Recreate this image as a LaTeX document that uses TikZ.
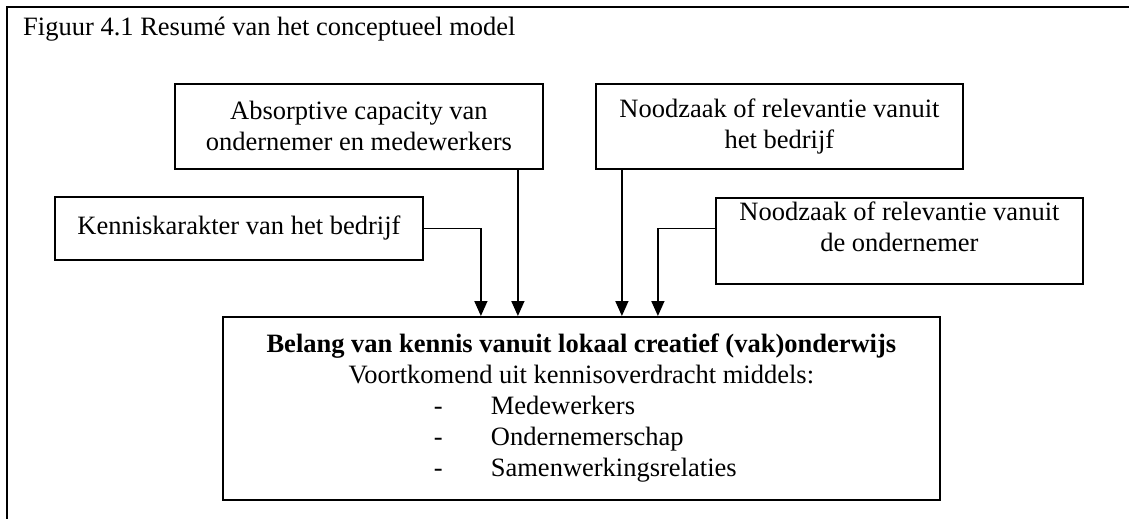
\documentclass[tikz,border=0pt]{standalone}
\usepackage{fontspec}
\setmainfont{Liberation Serif}
\usetikzlibrary{arrows.meta}
\begin{document}
\begin{tikzpicture}[x=1pt,y=-1pt,
  box/.style={draw=black,line width=1.8pt,rectangle,inner sep=0pt,align=center,
    font=\fontsize{26.5}{31}\selectfont},
  conn/.style={draw=black,line width=1.5pt},
  arr/.style={conn,-{Triangle[width=13pt,length=15pt]}},
  frame/.style={draw=black,line width=2.5pt}]
\useasboundingbox (0,0) rectangle (1129,519);
% outer frame (top and left edges)
\draw[frame] (1129,7) -- (7,7) -- (7,519);
\node[anchor=base west,inner sep=0pt,font=\fontsize{26.5}{31}\selectfont] (title) at (23,36)
  {Figuur 4.1 Resum\'e van het conceptueel model};
% boxes
\node[box,minimum width=368pt,minimum height=85pt,anchor=north west] (ab) at (174,83)
  {Absorptive capacity van\\ondernemer en medewerkers};
\node[box,minimum width=367pt,minimum height=85pt,anchor=north west] (nb) at (595,83)
  {Noodzaak of relevantie vanuit\\het bedrijf};
\node[box,minimum width=368pt,minimum height=63pt,anchor=north west] (kk) at (54,196)
  {Kenniskarakter van het bedrijf};
\node[box,minimum width=367pt,minimum height=86pt,anchor=north west] (no) at (715,197) {};
\node[anchor=north,inner sep=0pt,align=center,font=\fontsize{26.5}{31}\selectfont] (notext)
  at ([yshift=-5pt]no.north) {Noodzaak of relevantie vanuit\\de ondernemer};
\node[box,minimum width=717pt,minimum height=183pt,anchor=north west] (main) at (222,316)
  {\textbf{Belang van kennis vanuit lokaal creatief (vak)onderwijs}\\
   Voortkomend uit kennisoverdracht middels:\\
   \makebox[295pt][l]{\makebox[57pt][l]{-}Medewerkers}\\
   \makebox[295pt][l]{\makebox[57pt][l]{-}Ondernemerschap}\\
   \makebox[295pt][l]{\makebox[57pt][l]{-}Samenwerkingsrelaties}};
% connectors
\coordinate (kkbend) at ([xshift=-100.5pt]main.north);
\draw[arr] (kk.east) -| (kkbend);
\coordinate (abfoot) at ([xshift=159pt]ab.south);
\draw[arr] (abfoot) -- (abfoot |- main.north);
\coordinate (nbfoot) at ([xshift=-157.5pt]nb.south);
\draw[arr] (nbfoot) -- (nbfoot |- main.north);
\coordinate (nobend) at ([xshift=76.5pt]main.north);
\draw[arr] (no.west |- kk.east) -| (nobend);
\end{tikzpicture}
\end{document}
